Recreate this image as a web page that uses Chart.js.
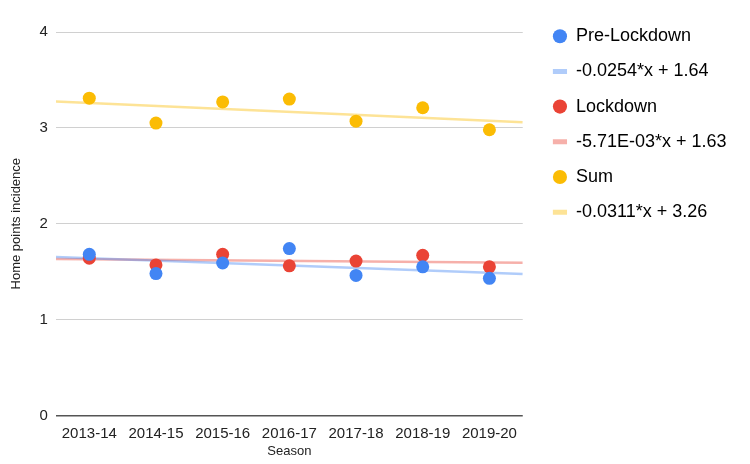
<!DOCTYPE html>
<html>
<head>
<meta charset="utf-8">
<script src="https://cdn.jsdelivr.net/npm/chart.js@4.4.1/dist/chart.umd.min.js"></script>
<style>
  html, body { margin: 0; padding: 0; background: #fff; }
  #wrap { width: 750px; height: 464px; }
</style>
</head>
<body>
<div id="wrap"><canvas id="chart"></canvas></div>
<script>
const seasons = ["2013-14", "2014-15", "2015-16", "2016-17", "2017-18", "2018-19", "2019-20"];
const preLockdown = [1.68, 1.48, 1.59, 1.74, 1.46, 1.55, 1.43];
const lockdown = [1.64, 1.57, 1.68, 1.56, 1.61, 1.67, 1.55];
const sumValues = [3.31, 3.05, 3.27, 3.30, 3.07, 3.21, 2.98];

// trendline coefficients as printed in the legend
const trendSlopes = [-0.0254, -0.00571, -0.0311];
const trendIntercepts = [1.64, 1.63, 3.26];
const trendLabels = ["-0.0254*x + 1.64", "-5.71E-03*x + 1.63", "-0.0311*x + 3.26"];

const seriesNames = ["Pre-Lockdown", "Lockdown", "Sum"];
const pointColors = ["#4285F4", "#EA4335", "#FBBC04"];
const trendColors = ["rgba(66,133,244,0.42)", "rgba(234,67,53,0.42)", "rgba(251,188,4,0.42)"];

const fontFamily = "'Liberation Sans', Arial, sans-serif";
const chartElement = document.getElementById("chart");

function toPoints(values) {
  return values.map((v, i) => ({ x: i, y: v }));
}

function trendPoints(k) {
  const xs = [-0.5, seasons.length - 0.5];
  return xs.map((x) => ({ x: x, y: trendSlopes[k] * x + trendIntercepts[k] }));
}

const allSeries = [preLockdown, lockdown, sumValues];
const datasets = [];

allSeries.forEach((values, k) => {
  datasets.push({
    type: "scatter",
    label: seriesNames[k],
    data: toPoints(values),
    backgroundColor: pointColors[k],
    borderColor: pointColors[k],
    pointRadius: 6.5,
    pointHoverRadius: 6.5,
    borderWidth: 0,
  });
});

allSeries.forEach((values, k) => {
  datasets.push({
    type: "line",
    label: trendLabels[k],
    data: trendPoints(k),
    borderColor: trendColors[k],
    borderWidth: 2.5,
    pointRadius: 0,
    fill: false,
  });
});

// nudge the legend a bit right of the plot and up, like the sheet export
const legendShift = {
  id: "legendShift",
  afterLayout(chart) {
    const lg = chart.legend;
    lg.left = chart.chartArea.right + 13;
    lg.right = chart.width;
    lg.top -= 22;
    lg.bottom -= 22;
    lg.width = lg.right - lg.left;
  },
};

const chart = new Chart(chartElement, {
  data: { datasets: datasets },
  plugins: [legendShift],
  options: {
    responsive: true,
    maintainAspectRatio: false,
    animation: false,
    layout: { padding: { top: 32, right: 56, left: 9, bottom: 5 } },
    plugins: {
      tooltip: { enabled: false },
      legend: {
        position: "right",
        align: "start",
        labels: {
          usePointStyle: true,
          boxWidth: 14,
          boxHeight: 10,
          padding: 17.2,
          color: "#222",
          font: { family: fontFamily, size: 18 },
          generateLabels: () => {
            const items = [];
            for (let k = 0; k < 3; k++) {
              items.push({
                text: seriesNames[k],
                fillStyle: pointColors[k],
                strokeStyle: pointColors[k],
                lineWidth: 0,
                pointStyle: "circle",
                datasetIndex: k,
              });
              items.push({
                text: trendLabels[k],
                fillStyle: trendColors[k],
                strokeStyle: trendColors[k],
                lineWidth: 5,
                pointStyle: "line",
                datasetIndex: k + 3,
              });
            }
            return items;
          },
        },
      },
    },
    scales: {
      x: {
        type: "linear",
        min: -0.5,
        max: seasons.length - 0.5,
        afterBuildTicks: (axis) => {
          axis.ticks = seasons.map((s, i) => ({ value: i }));
        },
        grid: { display: false },
        border: { display: false },
        ticks: {
          color: "#222",
          font: { family: fontFamily, size: 15 },
          padding: 1,
          maxRotation: 0,
          callback: (value) => seasons[value],
        },
        title: {
          display: true,
          text: "Season",
          color: "#222",
          font: { family: fontFamily, size: 13 },
          padding: { top: 0, bottom: 0 },
        },
      },
      y: {
        min: 0,
        max: 4,
        ticks: {
          stepSize: 1,
          color: "#222",
          font: { family: fontFamily, size: 15 },
          padding: 8,
        },
        grid: {
          drawTicks: false,
          color: (c) => (c.tick && c.tick.value === 0 ? "#555" : "#d0d0d0"),
          lineWidth: (c) => (c.tick && c.tick.value === 0 ? 1.5 : 1),
        },
        border: { display: false },
        title: {
          display: true,
          text: "Home points incidence",
          color: "#222",
          font: { family: fontFamily, size: 13 },
          padding: { top: 0, bottom: 7 },
        },
      },
    },
  },
});
</script>
</body>
</html>
